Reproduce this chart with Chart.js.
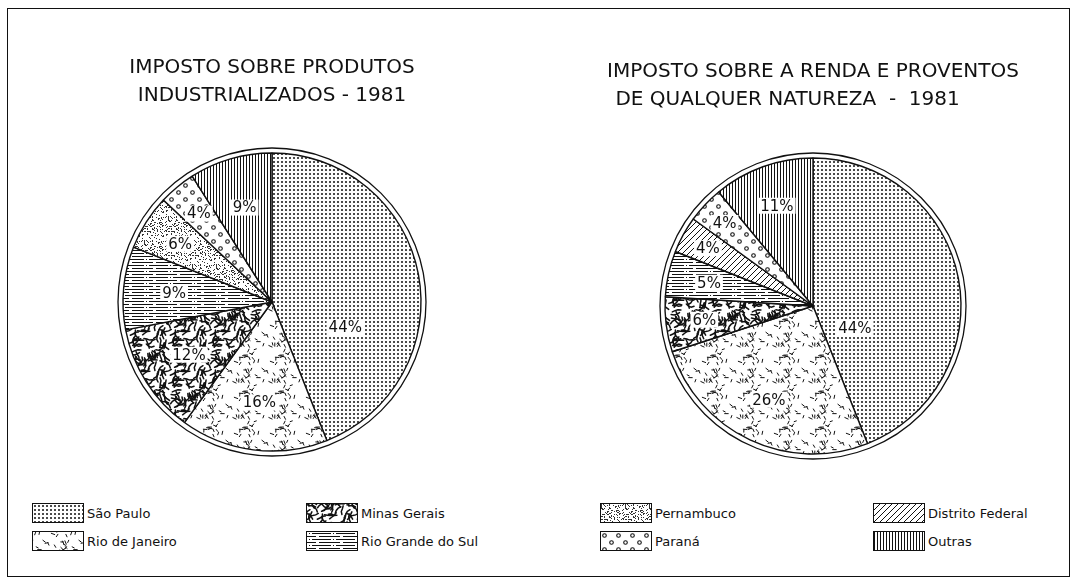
<!DOCTYPE html>
<html lang="pt">
<head>
<meta charset="UTF-8">
<title>Arrecadação por unidade da federação - 1981</title>
<script src="https://cdn.jsdelivr.net/npm/chart.js"></script>
<style>
  body { margin:0; background:#fff; width:1073px; height:583px; overflow:hidden; position:relative; font-family:"DejaVu Sans", sans-serif; }
  #frame { position:absolute; left:7px; top:8px; width:1063px; height:569px; box-sizing:border-box; border:1.5px solid #111; }
  #c1 { position:absolute; left:0; top:0; }
  #c2 { position:absolute; left:540px; top:0; }
  .item { position:absolute; display:flex; align-items:center; font-size:13px; color:#111; white-space:nowrap; }
  .item canvas { border:1px solid #111; margin-right:3px; }
</style>
</head>
<body>
<div id="frame"></div>
<canvas id="c1" width="544" height="484"></canvas>
<canvas id="c2" width="533" height="488"></canvas>
<div id="legend"></div>

<script>
// dados
const categories = ['São Paulo', 'Rio de Janeiro', 'Minas Gerais', 'Rio Grande do Sul',
                    'Pernambuco', 'Distrito Federal', 'Paraná', 'Outras'];
const ipiValues = [44, 16, 12, 9, 6, 0, 4, 9];
const irValues  = [44, 26, 6, 5, 0, 4, 4, 11];
const ipiTitle = ['IMPOSTO SOBRE PRODUTOS', 'INDUSTRIALIZADOS - 1981'];
// espaços no fim deslocam a 2a linha para a esquerda, como no original
const irTitle  = ['IMPOSTO SOBRE A RENDA E PROVENTOS', 'DE QUALQUER NATUREZA  -  1981        '];
const legendOrder = [0, 1, 2, 3, 4, 6, 5, 7]; // por coluna

// --- texturas (preto e branco) ---
function seeded(s) { return () => (s = (s * 16807) % 2147483647) / 2147483647; }
function tile(w, h, draw) {
    const c = document.createElement('canvas');
    c.width = w; c.height = h;
    const g = c.getContext('2d');
    g.fillStyle = '#fff'; g.fillRect(0, 0, w, h);
    g.fillStyle = '#111'; g.strokeStyle = '#111';
    draw(g, w, h);
    return g.createPattern(c, 'repeat');
}
function wrapped(g, w, h, fn) {
    for (const dx of [-w, 0, w]) for (const dy of [-h, 0, h]) {
        g.save(); g.translate(dx, dy); fn(); g.restore();
    }
}

const patSP = tile(4, 4, g => { g.beginPath(); g.arc(2, 2, 1, 0, 7); g.fill(); });
const patRJ = tile(36, 36, (g, w, h) => {
    const r = seeded(7); g.lineWidth = 1;
    for (let i = 0; i < 40; i++) {
        const x = r() * w, y = r() * h, a = r() * Math.PI, l = 3 + r() * 1.5;
        wrapped(g, w, h, () => {
            g.beginPath(); g.moveTo(x, y); g.lineTo(x + Math.cos(a) * l, y + Math.sin(a) * l); g.stroke();
        });
    }
});
const patMG = tile(40, 40, (g, w, h) => {
    const r = seeded(11); g.lineWidth = 1.5; g.lineCap = 'round';
    for (let i = 0; i < 60; i++) {
        const pts = []; let x = r() * w, y = r() * h, a = r() * 6.28;
        pts.push([x, y]);
        for (let k = 0; k < 3; k++) { a += (r() - 0.5) * 1.6; x += Math.cos(a) * 3; y += Math.sin(a) * 3; pts.push([x, y]); }
        wrapped(g, w, h, () => {
            g.beginPath(); g.moveTo(pts[0][0], pts[0][1]);
            pts.slice(1).forEach(p => g.lineTo(p[0], p[1])); g.stroke();
        });
    }
});
const patRGS = tile(24, 6, (g, w) => {
    const r = seeded(3);
    g.fillRect(0, 1, w, 1); g.fillRect(0, 4, w, 1);
    g.fillStyle = '#fff';
    for (let k = 0; k < 3; k++) g.fillRect(Math.floor(r() * w), r() < 0.5 ? 1 : 4, 2 + Math.floor(r() * 3), 1);
});
const patPE = tile(24, 24, (g, w, h) => {
    const r = seeded(5); g.fillStyle = '#333';
    for (let i = 0; i < 130; i++) g.fillRect(Math.floor(r() * w), Math.floor(r() * h), 1, 1);
});
const patDF = tile(6, 6, g => {
    g.lineWidth = 1;
    g.beginPath(); g.moveTo(0, 6); g.lineTo(6, 0); g.moveTo(-1, 1); g.lineTo(1, -1); g.moveTo(5, 7); g.lineTo(7, 5); g.stroke();
});
const patPR = tile(14, 14, g => {
    g.lineWidth = 1.1;
    g.beginPath(); g.arc(3.5, 3.5, 1.8, 0, 7); g.stroke();
    g.beginPath(); g.arc(10.5, 10.5, 1.8, 0, 7); g.stroke();
});
const patOU = tile(3, 1, g => { g.fillRect(0, 0, 1, 1); });
const patterns = [patSP, patRJ, patMG, patRGS, patPE, patDF, patPR, patOU];

// rótulos de porcentagem dentro das fatias + anel externo
function makeLabelPlugin(dist, angle) {
    return {
        id: 'pctLabels',
        afterDatasetsDraw(chart) {
            const ctx = chart.ctx;
            const meta = chart.getDatasetMeta(0);
            const vals = chart.data.datasets[0].data;
            ctx.save();
            ctx.font = '15px "DejaVu Sans", sans-serif';
            ctx.textAlign = 'center'; ctx.textBaseline = 'middle';
            meta.data.forEach((arc, i) => {
                const v = vals[i];
                if (!v) return;
                let a = (arc.startAngle + arc.endAngle) / 2;
                if (angle[i] != null) a = (angle[i] - 90) * Math.PI / 180;
                const rr = arc.outerRadius * dist[i];
                const x = arc.x + Math.cos(a) * rr, y = arc.y + Math.sin(a) * rr;
                const t = v + '%';
                const w = ctx.measureText(t).width;
                ctx.fillStyle = '#fff';
                ctx.fillRect(x - w / 2 - 2, y - 8, w + 4, 16);
                ctx.fillStyle = '#111';
                ctx.fillText(t, x, y + 1);
            });
            const a0 = meta.data[0];
            ctx.beginPath();
            ctx.arc(a0.x, a0.y, a0.outerRadius + 5, 0, Math.PI * 2);
            ctx.lineWidth = 1.3; ctx.strokeStyle = '#111'; ctx.stroke();
            ctx.restore();
        }
    };
}

function makeChart(id, values, title, titleTop, padL, radius, dist, angle) {
    return new Chart(document.getElementById(id), {
        type: 'pie',
        data: {
            labels: categories,
            datasets: [{ data: values, backgroundColor: patterns, borderColor: '#111', borderWidth: 1.4 }]
        },
        options: {
            responsive: false,
            animation: false,
            radius: radius,
            layout: { padding: { left: padL } },
            plugins: {
                legend: { display: false },
                tooltip: { enabled: false },
                title: {
                    display: true, text: title, color: '#111',
                    font: { family: '"DejaVu Sans", sans-serif', size: 20, weight: 'normal', lineHeight: 1.4 },
                    padding: { top: titleTop, bottom: 10 }
                }
            }
        },
        plugins: [makeLabelPlugin(dist, angle)]
    });
}

makeChart('c1', ipiValues, ipiTitle, 54, 0, 149,
    [0.52, 0.68, 0.66, 0.66, 0.73, 0.7, 0.77, 0.66],
    [109, null, null, null, null, null, null, null]);
makeChart('c2', irValues, irTitle, 58, 13, 148,
    [0.32, 0.70, 0.74, 0.72, 0.7, 0.81, 0.82, 0.72],
    [118, null, null, null, null, null, null, null]);

// legenda
const colX = [32, 306, 600, 873];
const rowY = [503, 531];
const legend = document.getElementById('legend');
legendOrder.forEach((idx, k) => {
    const item = document.createElement('div');
    item.className = 'item';
    item.style.left = colX[Math.floor(k / 2)] + 'px';
    item.style.top = rowY[k % 2] + 'px';
    const sw = document.createElement('canvas');
    sw.width = 50; sw.height = 18;
    const g = sw.getContext('2d');
    g.fillStyle = patterns[idx]; g.fillRect(0, 0, 50, 18);
    item.appendChild(sw);
    const span = document.createElement('span');
    span.textContent = categories[idx];
    item.appendChild(span);
    legend.appendChild(item);
});
</script>
</body>
</html>
